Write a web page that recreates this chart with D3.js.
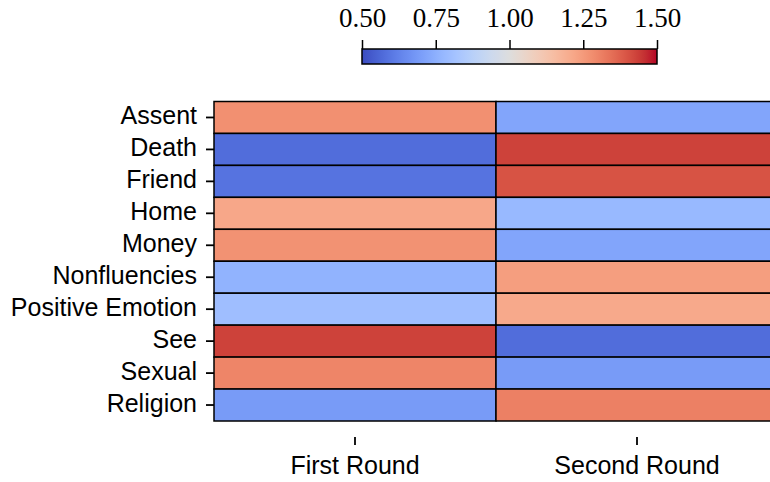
<!DOCTYPE html>
<html>
<head>
<meta charset="utf-8">
<script src="https://cdn.jsdelivr.net/npm/d3@7"></script>
<style>
  html, body { margin: 0; padding: 0; background: #fff; }
  svg { display: block; }
</style>
</head>
<body>
<svg id="chart" width="770" height="482"></svg>
<script>
// Categories and values
const categories = ["Assent", "Death", "Friend", "Home", "Money", "Nonfluencies",
  "Positive Emotion", "See", "Sexual", "Religion"];
const rounds = ["First Round", "Second Round"];
const firstRound  = [1.275, 0.575, 0.59, 1.215, 1.27, 0.76, 0.80, 1.43, 1.30, 0.69];
const secondRound = [0.72, 1.43, 1.40, 0.78, 0.72, 1.24, 1.21, 0.575, 0.69, 1.31];
const colorTicks = [0.50, 0.75, 1.00, 1.25, 1.50];
const colorDomain = [0.5, 1.5];

// Diverging "coolwarm" palette (Moreland), 33 evenly spaced stops
const coolwarm = [
  [59,76,192],[68,90,204],[77,104,215],[87,117,225],[98,130,234],[108,142,241],
  [119,154,247],[130,165,251],[141,176,254],[152,185,255],[163,194,255],[174,201,253],
  [184,208,249],[194,213,244],[204,217,238],[213,219,230],[221,221,221],[229,216,209],
  [236,211,197],[241,204,185],[245,196,173],[247,187,160],[247,177,148],[247,166,135],
  [244,154,123],[241,141,111],[236,127,99],[229,112,88],[222,96,77],[213,80,66],
  [203,62,56],[192,40,47],[180,4,38]
].map(c => d3.rgb(c[0], c[1], c[2]).formatHex());

const color = d3.scaleLinear()
  .domain(coolwarm.map((_, i) => colorDomain[0] + (colorDomain[1] - colorDomain[0]) * i / (coolwarm.length - 1)))
  .range(coolwarm)
  .interpolate(d3.interpolateRgb)
  .clamp(true);

const cells = [];
categories.forEach((c, i) => {
  cells.push({ row: c, col: rounds[0], value: firstRound[i] });
  cells.push({ row: c, col: rounds[1], value: secondRound[i] });
});

const svg = d3.select("#chart");
const sansFont = "'Liberation Sans', Arial, sans-serif";
const serifFont = "'Liberation Serif', 'Times New Roman', serif";

// Heatmap scales
const x = d3.scaleBand().domain(rounds).range([214, 778]);
const y = d3.scaleBand().domain(categories).range([101.5, 421]);

const grid = svg.append("g");
grid.selectAll("rect")
  .data(cells)
  .join("rect")
  .attr("x", d => x(d.col))
  .attr("y", d => y(d.row))
  .attr("width", x.bandwidth())
  .attr("height", y.bandwidth())
  .attr("fill", d => color(d.value))
  .attr("stroke", "#000")
  .attr("stroke-width", 1.5);

// Row labels
const yAxis = svg.append("g")
  .attr("transform", "translate(214,0)")
  .call(d3.axisLeft(y).tickSize(8).tickPadding(9));
yAxis.select(".domain").remove();
yAxis.selectAll(".tick line").attr("stroke", "#000").attr("stroke-width", 1.8);
yAxis.selectAll(".tick text")
  .attr("font-family", sansFont)
  .attr("font-size", 25)
  .attr("fill", "#000")
  .attr("dy", 7);

// Column labels, set below the grid
const xAxis = svg.append("g")
  .attr("transform", "translate(0,437)")
  .call(d3.axisBottom(x).tickSize(8));
xAxis.select(".domain").remove();
xAxis.selectAll(".tick line").attr("stroke", "#000").attr("stroke-width", 1.8);
xAxis.selectAll(".tick text")
  .attr("font-family", sansFont)
  .attr("font-size", 25)
  .attr("fill", "#000")
  .attr("y", 37)
  .attr("dy", 0);

// Colour bar
const cbX = d3.scaleLinear().domain(colorDomain).range([362, 657]);
const cbTop = 49, cbHeight = 15;

const defs = svg.append("defs");
const grad = defs.append("linearGradient")
  .attr("id", "cbGrad")
  .attr("x1", "0%").attr("x2", "100%").attr("y1", "0%").attr("y2", "0%");
d3.range(0, 1.0001, 0.02).forEach(t => {
  grad.append("stop")
    .attr("offset", (t * 100) + "%")
    .attr("stop-color", color(colorDomain[0] + t * (colorDomain[1] - colorDomain[0])));
});

svg.append("rect")
  .attr("x", cbX(colorDomain[0]))
  .attr("y", cbTop)
  .attr("width", cbX(colorDomain[1]) - cbX(colorDomain[0]))
  .attr("height", cbHeight)
  .attr("fill", "url(#cbGrad)")
  .attr("stroke", "#000")
  .attr("stroke-width", 1.5);

const cbAxis = svg.append("g")
  .attr("transform", `translate(0,${cbTop})`)
  .call(d3.axisTop(cbX).tickValues(colorTicks).tickFormat(d3.format(".2f")).tickSize(9));
cbAxis.select(".domain").remove();
cbAxis.selectAll(".tick line").attr("stroke", "#000").attr("stroke-width", 1.5);
cbAxis.selectAll(".tick text")
  .attr("font-family", serifFont)
  .attr("font-size", 27)
  .attr("fill", "#000")
  .attr("y", -22)
  .attr("dy", 0);
</script>
</body>
</html>
